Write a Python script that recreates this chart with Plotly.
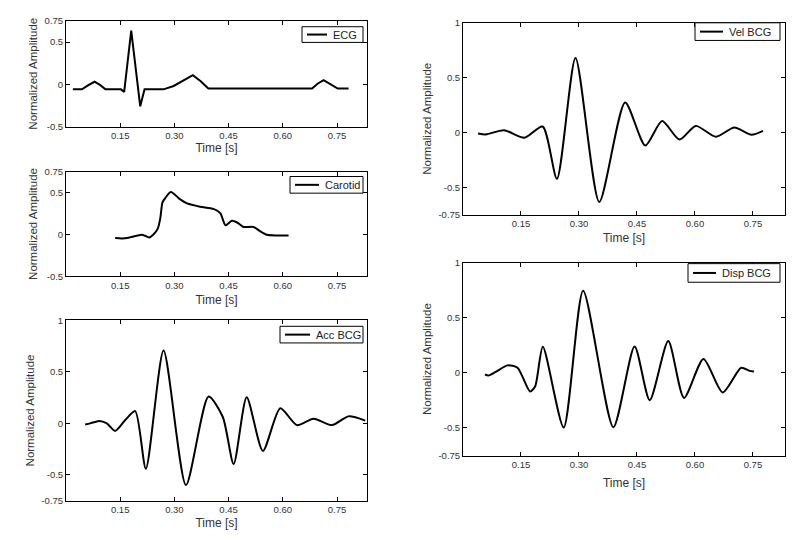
import plotly.graph_objects as go

# ---------------- data ----------------
ecg_t = [0.019, 0.044, 0.062, 0.079, 0.095, 0.109, 0.152, 0.161, 0.1805, 0.2054, 0.2174,
         0.270, 0.298, 0.330, 0.351, 0.372, 0.394, 0.681, 0.697, 0.713, 0.732, 0.752, 0.782]
ecg_v = [-0.06, -0.06, -0.01, 0.03, -0.01, -0.06, -0.06, -0.09, 0.635, -0.26, -0.06,
         -0.06, -0.02, 0.06, 0.108, 0.04, -0.05, -0.05, 0.01, 0.05, 0.0, -0.05, -0.05]

carotid_t = [0.136, 0.155, 0.173, 0.210, 0.219, 0.230, 0.242, 0.254, 0.261, 0.267, 0.274,
             0.290, 0.316, 0.335, 0.371, 0.408, 0.427, 0.4415, 0.459, 0.475, 0.491, 0.519,
             0.537, 0.556, 0.584, 0.616]
carotid_v = [-0.043, -0.047, -0.039, -0.004, -0.016, -0.035, 0.0, 0.07, 0.195, 0.383, 0.43,
             0.508, 0.418, 0.371, 0.332, 0.305, 0.254, 0.109, 0.164, 0.14, 0.09, 0.09,
             0.039, -0.004, -0.012, -0.012]

acc_t = [0.053, 0.067, 0.092, 0.113, 0.136, 0.164, 0.1915, 0.221, 0.270, 0.332, 0.3945,
         0.434, 0.464, 0.500, 0.545, 0.593, 0.639, 0.685, 0.736, 0.782, 0.828]
acc_v = [-0.01, 0.0, 0.024, 0.0, -0.073, 0.032, 0.119, -0.441, 0.707, -0.599, 0.26,
         0.062, -0.394, 0.254, -0.268, 0.147, -0.017, 0.046, -0.017, 0.068, 0.027]

vel_t = [0.039, 0.059, 0.106, 0.159, 0.206, 0.243, 0.291, 0.3525, 0.4195, 0.4717, 0.515,
         0.560, 0.602, 0.654, 0.702, 0.746, 0.776]
vel_v = [-0.009, -0.018, 0.021, -0.048, 0.054, -0.423, 0.679, -0.634, 0.274, -0.119, 0.104,
         -0.065, 0.06, -0.039, 0.045, -0.021, 0.015]

disp_t = [0.0569, 0.0655, 0.0848, 0.115, 0.141, 0.1735, 0.1865, 0.2065, 0.2604, 0.3108, 0.389,
          0.4439, 0.483, 0.531, 0.5717, 0.6222, 0.6718, 0.7196, 0.741, 0.7527]
disp_v = [-0.015, -0.024, 0.009, 0.068, 0.047, -0.168, -0.124, 0.236, -0.496, 0.746, -0.493,
          0.239, -0.248, 0.289, -0.227, 0.127, -0.177, 0.047, 0.018, 0.012]

series_names = ["ECG", "Carotid", "Acc BCG", "Vel BCG", "Disp BCG"]

x_tickvals = [0.15, 0.30, 0.45, 0.60, 0.75]
x_ticktext = ["0.15", "0.30", "0.45", "0.60", "0.75"]
y_ticks_small = [-0.5, 0, 0.5, 0.75]
y_ticktext_small = ["-0.5", "0", "0.5", "0.75"]
y_ticks_big = [-0.75, -0.5, 0, 0.5, 1]
y_ticktext_big = ["-0.75", "-0.5", "0", "0.5", "1"]

# ---------------- layout ----------------
OFF = 8            # default page body margin
W, H = 783, 524    # figure size inside the 799x540 window
FONT = "Liberation Sans, Arial, sans-serif"

# axes boxes in page pixels: (left, right, top, bottom)
boxes = [(66, 367, 15, 123),
         (66, 367, 169, 276),
         (66, 367, 321, 505),
         (463, 785, 17, 213),
         (463, 785, 262, 459)]
yranges = [[-0.5, 0.75], [-0.5, 0.75], [-0.75, 1], [-0.75, 1], [-0.75, 1]]
shapes_line = ["linear", "spline", "spline", "spline", "spline"]
title_standoff = [0, 5, 4, 5, 9]
# legend boxes in page pixels: (left, right, top, bottom, sample_len)
legend_boxes = [(302, 363, 21, 37, 20),
                (290, 363, 174, 191, 24),
                (280, 363, 327, 344, 25),
                (695, 780, 17, 35, 23),
                (688, 780, 263, 282, 23)]

data = [(ecg_t, ecg_v), (carotid_t, carotid_v), (acc_t, acc_v), (vel_t, vel_v), (disp_t, disp_v)]


def fx(px):
    return (px - OFF) / W


def fy(py):
    return 1 - (py - OFF) / H


fig = go.Figure()
layout = dict(width=W, height=H, autosize=False, margin=dict(l=0, r=0, t=0, b=0),
              paper_bgcolor="white", plot_bgcolor="white", showlegend=False,
              font=dict(family=FONT, size=10, color="#333"))
shapes = []
annotations = []

for i, ((t, v), name, box, yr, ls) in enumerate(zip(data, series_names, boxes, yranges, shapes_line)):
    n = i + 1
    xa = "x" if n == 1 else f"x{n}"
    ya = "y" if n == 1 else f"y{n}"
    line = dict(color="black", width=2, shape=ls)
    if ls == "spline":
        line["smoothing"] = 0.7
    fig.add_trace(go.Scatter(x=t, y=v, mode="lines", name=name, line=line,
                             xaxis=xa, yaxis=ya))
    l, r, tp, b = box
    common = dict(showline=True, linecolor="black", linewidth=1, mirror="ticks",
                  ticks="inside", ticklen=4, tickcolor="black", showgrid=False,
                  zeroline=False, tickfont=dict(family=FONT, size=9.5, color="#333"))
    xkey = "xaxis" if n == 1 else f"xaxis{n}"
    ykey = "yaxis" if n == 1 else f"yaxis{n}"
    layout[xkey] = dict(common, domain=[fx(l), fx(r)], anchor=ya, range=[0, 0.833],
                        tickvals=x_tickvals, ticktext=x_ticktext,
                        title=dict(text="Time [s]", font=dict(family=FONT, size=12, color="#333"),
                                   standoff=title_standoff[i]))
    small = yr[1] < 1
    layout[ykey] = dict(common, domain=[fy(b), fy(tp)], anchor=xa, range=yr,
                        tickvals=y_ticks_small if small else y_ticks_big,
                        ticktext=y_ticktext_small if small else y_ticktext_big,
                        title=dict(text="Normalized Amplitude", font=dict(family=FONT, size=11.5, color="#333"),
                                   standoff=4))

    # legend box (drawn like the reference's compact legend)
    ll, lr, lt, lb, slen = legend_boxes[i]
    ymid = (lt + lb) / 2
    shapes.append(dict(type="rect", xref="paper", yref="paper", x0=fx(ll), x1=fx(lr),
                       y0=fy(lb), y1=fy(lt), line=dict(color="black", width=1), fillcolor="white"))
    shapes.append(dict(type="line", xref="paper", yref="paper", x0=fx(ll + 5), x1=fx(ll + 5 + slen),
                       y0=fy(ymid), y1=fy(ymid), line=dict(color="black", width=2)))
    annotations.append(dict(text=name, xref="paper", yref="paper", x=fx(ll + 9 + slen), y=fy(ymid),
                            xanchor="left", yanchor="middle", showarrow=False,
                            font=dict(family=FONT, size=11, color="#222")))

layout["shapes"] = shapes
layout["annotations"] = annotations
fig.update_layout(**layout)
fig.write_html("out.html")
